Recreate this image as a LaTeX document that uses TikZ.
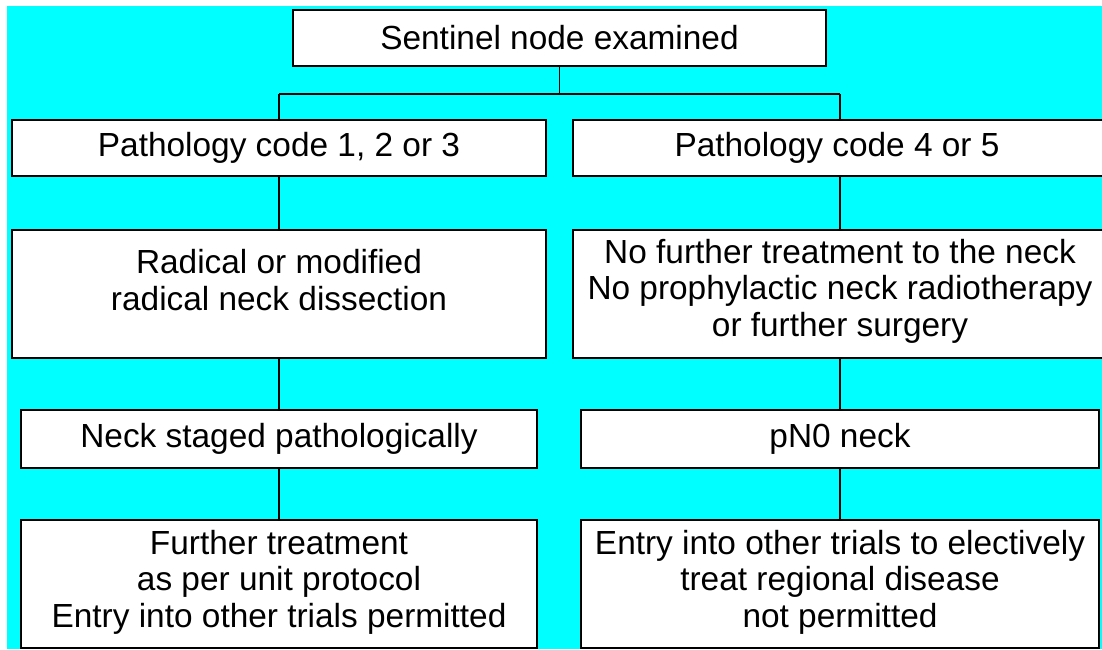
\documentclass[tikz,border=0pt]{standalone}
\usepackage{fontspec}
\setmainfont{Liberation Sans}
\definecolor{bgcyan}{RGB}{0,255,255}
\tikzset{
  box/.style={draw=black, line width=1.6pt, fill=white, inner sep=0pt, anchor=center},
  txt/.style={align=center, inner sep=0pt, font=\fontsize{33.4}{36.5}\selectfont},
  conn/.style={draw=black, line width=1.3pt}
}
\begin{document}
\begin{tikzpicture}[x=1pt,y=-1pt]
\useasboundingbox (0,0) rectangle (1102,649);
\fill[white] (0,0) rectangle (1102,649);
\fill[bgcyan] (7,6) rectangle (1102,649);

% boxes
\node[box, minimum width=533pt, minimum height=56pt] (top) at (559.5,38) {};
\node[box, minimum width=534pt, minimum height=56pt] (L1) at (279,148) {};
\node[box, minimum width=534pt, minimum height=56pt] (R1) at (840,148) {};
\node[box, minimum width=534pt, minimum height=128pt] (L2) at (279,294) {};
\node[box, minimum width=534pt, minimum height=128pt] (R2) at (840,294) {};
\node[box, minimum width=516pt, minimum height=58pt] (L3) at (279,439) {};
\node[box, minimum width=518pt, minimum height=58pt] (R3) at (840,439) {};
\node[box, minimum width=516pt, minimum height=128pt] (L4) at (279,584) {};
\node[box, minimum width=518pt, minimum height=128pt] (R4) at (840,584) {};

% connectors
\coordinate (j) at (559.5,94);
\coordinate (jl) at (279,94);
\coordinate (jr) at (840,94);
\draw[conn] (top.south) -- (j);
\draw[conn] (jl) -- (jr);
\draw[conn] (jl) -- (L1.north);
\draw[conn] (jr) -- (R1.north);
\draw[conn] (L1.south) -- (L2.north);
\draw[conn] (R1.south) -- (R2.north);
\draw[conn] (L2.south) -- (L3.north);
\draw[conn] (R2.south) -- (R3.north);
\draw[conn] (L3.south) -- (L4.north);
\draw[conn] (R3.south) -- (R4.north);

% texts
\node[txt] (topt) at (top.center) {Sentinel node examined};
\node[txt] (L1t) at (L1.center) {Pathology code 1, 2 or 3};
\node[txt] (R1t) at ([xshift=-3pt]R1.center) {Pathology code 4 or 5};
\node[txt] (L2t) at ([yshift=14pt]L2.center) {Radical or modified\\radical neck dissection};
\node[txt] (R2t) at ([yshift=3pt]R2.center) {No further treatment to the neck\\No prophylactic neck radiotherapy\\or further surgery};
\node[txt] (L3t) at (L3.center) {Neck staged pathologically};
\node[txt] (R3t) at (R3.center) {pN0 neck};
\node[txt] (L4t) at ([yshift=2pt]L4.center) {Further treatment\\as per unit protocol\\Entry into other trials permitted};
\node[txt] (R4t) at ([yshift=2pt]R4.center) {Entry into other trials to electively\\treat regional disease\\not permitted};
\end{tikzpicture}
\end{document}
